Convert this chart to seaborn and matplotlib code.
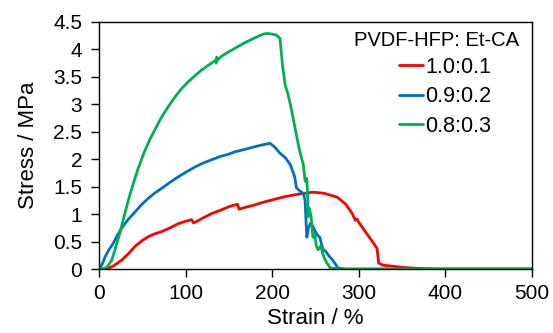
import matplotlib as mpl

mpl.use('Agg')
import matplotlib.pyplot as plt
import pandas as pd
import seaborn as sns

#### data ####
series_names = ['1.0:0.1', '0.9:0.2', '0.8:0.3']
series_colors = ['#FF0000', '#0070C0', '#00B050']
legend_title = 'PVDF-HFP: Et-CA'

red_strain = [0, 6, 11, 18, 26, 34, 42, 50, 57, 64, 72, 82, 92, 100, 107,
              109, 112, 120, 130, 140, 149, 155, 160, 161.7, 168, 178, 188,
              200, 215, 232, 247, 260, 275, 285, 292, 296, 298, 300, 309, 321,
              323, 328, 340, 351, 370, 390, 500]
red_stress = [0, 0, 0.01, 0.07, 0.16, 0.28, 0.42, 0.52, 0.59, 0.64, 0.68,
              0.75, 0.83, 0.87, 0.90, 0.84, 0.86, 0.93, 1.01, 1.07, 1.13, 1.16,
              1.18, 1.09, 1.12, 1.16, 1.21, 1.26, 1.32, 1.37, 1.40, 1.38, 1.31,
              1.18, 1.02, 0.89, 0.91, 0.85, 0.65, 0.38, 0.11, 0.07, 0.05, 0.03,
              0.01, 0, 0]

blue_strain = [0, 1.2, 4, 7, 11, 16.5, 21, 26, 33, 41.6, 49, 57, 64, 72.4, 82,
               91.6, 101, 111, 120, 130, 140, 149, 158, 168.6, 178, 188, 197.5,
               203, 209, 215, 221, 226, 228, 232, 236, 238, 239, 240, 242, 244,
               247, 249, 252, 255, 257, 259, 262, 265, 270, 276, 285, 500]
blue_stress = [0, 0.01, 0.1, 0.22, 0.34, 0.47, 0.61, 0.74, 0.89, 1.04, 1.17,
               1.29, 1.38, 1.47, 1.58, 1.68, 1.77, 1.86, 1.93, 1.99, 2.05, 2.09,
               2.14, 2.18, 2.22, 2.26, 2.29, 2.22, 2.11, 2.03, 1.9, 1.68, 1.48,
               1.42, 1.38, 1.25, 0.9, 0.58, 0.75, 0.83, 0.78, 0.71, 0.62, 0.58,
               0.45, 0.35, 0.32, 0.25, 0.16, 0.02, 0, 0]

green_strain = [0, 7, 10.5, 14.6, 19, 24, 29, 34, 39.5, 45, 52, 59, 65, 72,
                80, 88, 95, 103, 110, 118, 127, 134.5, 135.2, 136, 137, 142,
                149, 158, 168, 176, 184, 190, 194, 200, 205, 209, 212, 215, 218,
                221, 226, 231, 236, 238, 240, 241, 241.5, 243, 245, 247,
                249, 251, 253, 256, 259, 262, 267, 280, 500]
green_stress = [0, 0.01, 0.06, 0.16, 0.38, 0.65, 0.96, 1.26, 1.55, 1.82, 2.12,
                2.37, 2.55, 2.76, 2.96, 3.14, 3.28, 3.41, 3.51, 3.62, 3.72,
                3.80, 3.75, 3.86, 3.81, 3.88, 3.95, 4.03, 4.12, 4.18, 4.24,
                4.28, 4.29, 4.28, 4.26, 4.2, 3.7, 3.35, 3.2, 3.0, 2.6, 2.2,
                1.9, 1.6, 1.65, 1.3, 0.95, 1.1, 0.95, 0.58, 0.65, 0.42,
                0.35, 0.42, 0.25, 0.14, 0.02, 0, 0]

x_ticks = [0, 100, 200, 300, 400, 500]
y_ticks = [0, 0.5, 1, 1.5, 2, 2.5, 3, 3.5, 4, 4.5]
y_tick_labels = ['0', '0.5', '1', '1.5', '2', '2.5', '3', '3.5', '4', '4.5']
###############

frames = []
for name, xs, ys in zip(series_names,
                        [red_strain, blue_strain, green_strain],
                        [red_stress, blue_stress, green_stress]):
    frames.append(pd.DataFrame({'strain': xs, 'stress': ys, 'ratio': name}))
df = pd.concat(frames, ignore_index=True)

sns.set_style('ticks')
plt.rcParams['font.family'] = ['Liberation Sans', 'DejaVu Sans']
plt.rcParams['text.color'] = 'black'
plt.rcParams['axes.labelcolor'] = 'black'
plt.rcParams['xtick.color'] = 'black'
plt.rcParams['ytick.color'] = 'black'
plt.rcParams['axes.edgecolor'] = 'black'

figure, axis = plt.subplots(figsize=(5.53, 3.33), dpi=100)
figure.subplots_adjust(left=0.179, right=0.962, bottom=0.192, top=0.934)

sns.lineplot(data=df, x='strain', y='stress', hue='ratio',
             hue_order=series_names, palette=series_colors, sort=False,
             estimator=None, linewidth=2, ax=axis)

axis.set_xlim(0, 500)
axis.set_ylim(0, 4.5)
axis.set_xticks(x_ticks)
axis.set_yticks(y_ticks)
axis.set_yticklabels(y_tick_labels)
axis.tick_params(labelsize=15, length=6, width=1)
axis.tick_params(axis='x', pad=5)
axis.tick_params(axis='y', pad=6)
axis.set_xlabel('Strain / %', fontsize=16, labelpad=3)
axis.set_ylabel('Stress / MPa', fontsize=16, labelpad=10)
for spine in axis.spines.values():
    spine.set_linewidth(1)
    spine.set_color('black')

# legend title as plain text, entries below it shifted right
axis.text(0.97, 0.927, legend_title, transform=axis.transAxes,
          ha='right', va='center', fontsize=14.5)
axis.legend(frameon=False, loc='upper left', bbox_to_anchor=(0.693, 0.86),
            fontsize=15.5, handlelength=1.1, handletextpad=0.1,
            labelspacing=0.4, borderaxespad=0, borderpad=0)

plt.savefig('out.png', dpi=100)
